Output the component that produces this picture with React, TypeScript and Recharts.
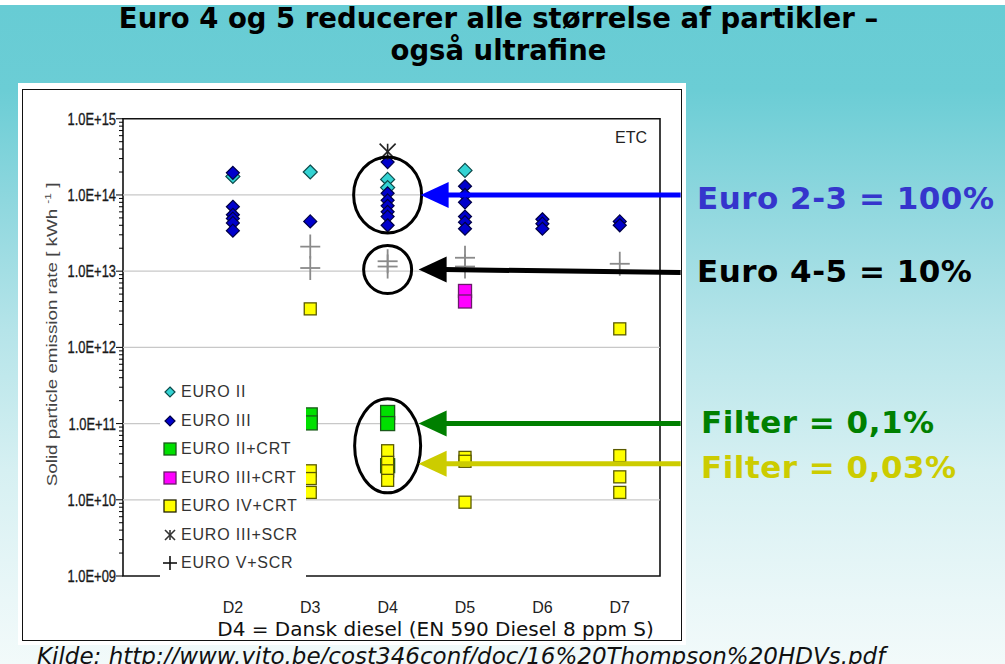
import React from 'react';
import {
  ScatterChart,
  Scatter,
  XAxis,
  YAxis,
  ReferenceLine,
  ReferenceArea,
  ReferenceDot,
  Legend,
} from 'recharts';

// ---------- data ----------
const CATEGORIES = ['D2', 'D3', 'D4', 'D5', 'D6', 'D7'];
const Y_DECADES = [1e9, 1e10, 1e11, 1e12, 1e13, 1e14, 1e15];
const Y_TICK_LABELS = ['1.0E+09', '1.0E+10', '1.0E+11', '1.0E+12', '1.0E+13', '1.0E+14', '1.0E+15'];
const Y_MINOR_STEPS = [2, 3, 4, 5, 6, 7, 8, 9];

// values listed per category (D2..D7)
const EURO_II = [[1.75e14], [2.0e14], [1.6e14, 1.25e14], [2.1e14], [], []];
const EURO_III = [
  [1.95e14, 7.0e13, 5.5e13, 4.9e13, 4.3e13, 3.4e13],
  [4.5e13],
  [2.7e14, 1.05e14, 8.5e13, 7.2e13, 6.0e13, 5.2e13, 4.0e13],
  [1.3e14, 1.0e14, 8.0e13, 5.2e13, 4.4e13, 3.6e13],
  [4.8e13, 4.2e13, 3.6e13],
  [4.5e13, 4.0e13],
];
const EURO_II_CRT = [[], [1.3e11, 1.02e11], [1.4e11, 1.0e11, 2.8e10], [], [], []];
const EURO_III_CRT = [[], [], [], [5.5e12, 4.0e12], [], []];
const EURO_IV_CRT = [
  [],
  [3.2e12, 2.4e10, 1.9e10, 1.25e10],
  [4.4e10, 3.1e10, 2.4e10, 1.8e10],
  [3.6e10, 3.2e10, 9.3e9],
  [],
  [1.75e12, 3.8e10, 2.0e10, 1.25e10],
];
const EURO_III_SCR = [[], [], [3.7e14], [], [], []];
const EURO_V_SCR = [[], [2.1e13, 1.1e13], [1.35e13, 1.15e13], [1.5e13, 1.15e13], [], [1.25e13]];

const toPoints = (vals: number[][]) =>
  vals.flatMap((list, i) => list.map((v) => ({ x: i, y: v })));

// ---------- marker shapes ----------
const diamond = (fill: string, stroke: string, r: number) => (p: any) => {
  const { cx, cy } = p;
  return (
    <path
      d={`M${cx},${cy - r}L${cx + r},${cy}L${cx},${cy + r}L${cx - r},${cy}Z`}
      fill={fill}
      stroke={stroke}
      strokeWidth={1.2}
    />
  );
};
const square = (fill: string, stroke: string, s: number) => (p: any) => {
  const { cx, cy } = p;
  return (
    <rect x={cx - s / 2} y={cy - s / 2} width={s} height={s} fill={fill} stroke={stroke} strokeWidth={1.3} />
  );
};
const plus = (color: string, w: number, h: number, sw = 1.6) => (p: any) => {
  const { cx, cy } = p;
  return (
    <g stroke={color} strokeWidth={sw}>
      <line x1={cx - w / 2} x2={cx + w / 2} y1={cy} y2={cy} />
      <line x1={cx} x2={cx} y1={cy - h / 2} y2={cy + h / 2} />
    </g>
  );
};
const asterisk = (color: string, s: number) => (p: any) => {
  const { cx, cy } = p;
  const r = s / 2;
  return (
    <g stroke={color} strokeWidth={1.6}>
      <line x1={cx - r} x2={cx + r} y1={cy - r} y2={cy + r} />
      <line x1={cx - r} x2={cx + r} y1={cy + r} y2={cy - r} />
      <line x1={cx} x2={cx} y1={cy - r} y2={cy + r} />
    </g>
  );
};

const SERIES = [
  { name: 'EURO II', vals: EURO_II, shape: diamond('#33D3D3', '#0d4a4a', 7), icon: diamond('#33D3D3', '#0d4a4a', 5) },
  { name: 'EURO III', vals: EURO_III, shape: diamond('#0000CC', '#000044', 6.5), icon: diamond('#0000CC', '#000044', 5) },
  { name: 'EURO II+CRT', vals: EURO_II_CRT, shape: square('#00E000', '#1a5a1a', 14), icon: square('#00E000', '#1a5a1a', 12) },
  { name: 'EURO III+CRT', vals: EURO_III_CRT, shape: square('#FF00FF', '#6a1a6a', 13), icon: square('#FF00FF', '#6a1a6a', 12) },
  { name: 'EURO IV+CRT', vals: EURO_IV_CRT, shape: square('#FFFF00', '#5a5a00', 12), icon: square('#FFFF00', '#222200', 12) },
  { name: 'EURO III+SCR', vals: EURO_III_SCR, shape: asterisk('#222', 16), icon: asterisk('#333', 10) },
  { name: 'EURO V+SCR', vals: EURO_V_SCR, shape: plus('#8a8a8a', 20, 24, 1.8), icon: plus('#111', 14, 14) },
];
// drawing order (later = on top)
const DRAW_ORDER = ['EURO II+CRT', 'EURO III+CRT', 'EURO IV+CRT', 'EURO V+SCR', 'EURO II', 'EURO III', 'EURO III+SCR'];

// ---------- axis ticks ----------
const Y_TICKS = Y_DECADES.flatMap((d, i) =>
  i < Y_DECADES.length - 1 ? [d, ...Y_MINOR_STEPS.map((m) => m * d)] : [d]
);

const FONT = "'Liberation Sans', Arial, sans-serif";
const VERDANA = "'DejaVu Sans', Verdana, sans-serif";

const YTick = (props: any) => {
  const { x, y, payload } = props;
  const v = payload.value;
  const idx = Y_DECADES.findIndex((d) => Math.abs(d - v) / d < 1e-6);
  const major = idx >= 0;
  return (
    <g>
      <line x1={x - (major ? 7 : 4)} x2={x} y1={y} y2={y} stroke="#000" strokeWidth={1} />
      {major && (
        <text
          transform={`translate(${x - 7},${y}) scale(0.76,1)`}
          x={0}
          y={0}
          dy="0.36em"
          textAnchor="end"
          fontSize={17}
          fill="#1a1a1a"
          stroke="#1a1a1a"
          strokeWidth={0.35}
          fontFamily={FONT}
        >
          {Y_TICK_LABELS[idx]}
        </text>
      )}
    </g>
  );
};

const XTick = (props: any) => {
  const { x, y, payload } = props;
  return (
    <text x={x} y={y} dy={37} textAnchor="middle" fontSize={16} fill="#222" fontFamily={FONT}>
      {CATEGORIES[payload.value]}
    </text>
  );
};

const XLabel = (props: any) => {
  const { viewBox } = props;
  return (
    <text
      x={viewBox.x + viewBox.width / 2 + 44}
      y={viewBox.y + 60}
      textAnchor="middle"
      fontSize={20}
      fill="#111"
      fontFamily={VERDANA}
    >
      D4 = Dansk diesel (EN 590 Diesel 8 ppm S)
    </text>
  );
};

const YLabel = (props: any) => {
  const { viewBox } = props;
  const cx = 52;
  const cy = viewBox.y + viewBox.height / 2 - 13;
  return (
    <text
      transform={`translate(${cx},${cy}) rotate(-90) scale(1.34,1)`}
      x={0}
      y={0}
      dy="0.35em"
      textAnchor="middle"
      fontSize={14}
      fill="#444"
      fontFamily={FONT}
    >
      <tspan>Solid particle emission rate [ kWh </tspan>
      <tspan dy={-6} fontSize={9}>-1</tspan>
      <tspan dy={6}> ]</tspan>
    </text>
  );
};

// ---------- annotations (anchored to data coordinates) ----------
const arrow = (color: string, tipOffset: number, tailOffset: number, tailDy = 0) => (cx: number, cy: number) => {
  const tx = cx + tipOffset;
  const head = 28;
  const half = 13;
  const endX = cx + tailOffset;
  return (
    <g>
      <line x1={tx + head - 2} y1={cy} x2={endX} y2={cy + tailDy} stroke={color} strokeWidth={5} />
      <polygon points={`${tx},${cy} ${tx + head},${cy - half} ${tx + head},${cy + half}`} fill={color} />
    </g>
  );
};

const Annot = (rx: number, ry: number, arrowFn?: (cx: number, cy: number) => any) => (p: any) => {
  const { cx, cy } = p;
  return (
    <g>
      {rx > 0 && <ellipse cx={cx} cy={cy} rx={rx} ry={ry} fill="none" stroke="#000" strokeWidth={3} />}
      {arrowFn && arrowFn(cx, cy)}
    </g>
  );
};

const LegendContent = (props: any) => {
  const { payload } = props;
  const items = SERIES.filter((s) => (payload || []).some((e: any) => e.value === s.name));
  return (
    <div style={{ background: '#fff', paddingTop: 4 }}>
      {items.map((s) => (
        <div key={s.name} style={{ display: 'flex', alignItems: 'center', height: 28.5 }}>
          <svg width={20} height={20} style={{ flex: 'none' }}>
            {s.icon({ cx: 10, cy: 10 })}
          </svg>
          <span
            style={{
              fontFamily: FONT,
              fontSize: 16,
              letterSpacing: 0.8,
              color: '#333',
              marginLeft: 1,
              whiteSpace: 'nowrap',
            }}
          >
            {s.name}
          </span>
        </div>
      ))}
    </div>
  );
};

const W = 1005;
const H = 664;
const PLOT_TOP = 118.75;
const PLOT_LEFT = 123;
const PLOT_RIGHT = 660;
const PLOT_BOTTOM = 576;
const Y_AXIS_W = 60;
const X_AXIS_H = 68;

const annText = (top: number, color: string, text: string, left = 697) => (
  <div
    style={{
      position: 'absolute',
      left,
      top,
      fontFamily: VERDANA,
      fontWeight: 'bold',
      fontSize: 31,
      lineHeight: '31px',
      color,
      whiteSpace: 'nowrap',
      letterSpacing: 0.5,
    }}
  >
    {text}
  </div>
);

export default function App() {
  const ordered = DRAW_ORDER.map((n) => SERIES.find((s) => s.name === n)!);
  return (
    <div
      style={{
        position: 'absolute',
        left: 0,
        top: 0,
        width: W,
        height: H,
        overflow: 'hidden',
        background:
          'linear-gradient(to bottom, #ffffff 0px, #ffffff 5px, #67CCD4 5px, #6BCDD5 90px, #8ED7DE 200px, #B5E4E9 330px, #D6F0F2 470px, #EAF7F8 600px, #F2FAFA 664px)',
      }}
    >
      <div
        style={{
          position: 'absolute',
          left: 0,
          top: 2.3,
          width: W - 8,
          textAlign: 'center',
          fontFamily: VERDANA,
          fontWeight: 'bold',
          fontSize: 27.5,
          lineHeight: '32px',
          color: '#000',
        }}
      >
        Euro 4 og 5 reducerer alle størrelse af partikler –<br />
        også ultrafine
      </div>
      <div style={{ position: 'absolute', left: 18, top: 83, width: 668, height: 562, background: '#fff' }} />
      <div
        style={{
          position: 'absolute',
          left: 22,
          top: 89,
          width: 660,
          height: 552,
          border: '1.5px solid #111',
          boxSizing: 'border-box',
        }}
      />
      <div style={{ position: 'absolute', left: 0, top: 0 }}>
        <ScatterChart
          width={W}
          height={H}
          margin={{
            top: PLOT_TOP,
            left: PLOT_LEFT - Y_AXIS_W,
            right: W - PLOT_RIGHT,
            bottom: H - PLOT_BOTTOM - X_AXIS_H,
          }}
        >
          <XAxis
            type="number"
            dataKey="x"
            domain={[-1.42, 5.52]}
            ticks={CATEGORIES.map((_, i) => i)}
            interval={0}
            allowDataOverflow
            tickLine={false}
            axisLine={false}
            tickSize={0}
            tickMargin={0}
            height={X_AXIS_H}
            tick={<XTick />}
            label={XLabel}
          />
          <YAxis
            type="number"
            dataKey="y"
            scale="log"
            domain={[1e9, 1e15]}
            allowDataOverflow
            ticks={Y_TICKS}
            interval={0}
            tickLine={false}
            axisLine={false}
            tickSize={0}
            tickMargin={0}
            width={Y_AXIS_W}
            tick={<YTick />}
            label={YLabel}
          />
          {Y_DECADES.slice(1, -1).map((d) => (
            <ReferenceLine key={d} y={d} stroke="#C8C8C8" strokeWidth={1.2} />
          ))}
          <ReferenceArea
            x1={-1.42}
            x2={5.52}
            y1={1e9}
            y2={1e15}
            fill="none"
            fillOpacity={0}
            stroke="#111"
            strokeWidth={1.6}
            label={{ value: 'ETC', position: 'insideTopRight', offset: 13, fontSize: 16, fill: '#222', fontFamily: FONT }}
          />
          <Legend
            layout="vertical"
            align="center"
            verticalAlign="middle"
            payload={SERIES.map((s) => ({ value: s.name, type: 'circle', id: s.name }))}
            content={LegendContent}
            wrapperStyle={{ position: 'absolute', left: 160, top: 374, width: 146, height: 200, background: '#fff' }}
          />
          {ordered.map((s) => (
            <Scatter
              key={s.name}
              name={s.name}
              data={toPoints(s.vals)}
              shape={s.shape}
              isAnimationActive={false}
            />
          ))}
          <ReferenceDot x={2} y={1e14} r={0} shape={Annot(34, 38, arrow('#0000FF', 33, 293))} />
          <ReferenceDot x={2} y={1.05e13} r={0} shape={Annot(24, 24, arrow('#000000', 31, 293, 3))} />
          <ReferenceDot x={2} y={5.1e10} r={0} shape={Annot(33, 47)} />
          <ReferenceDot x={2} y={1.0e11} r={0} shape={Annot(0, 0, arrow('#007F00', 31, 293))} />
          <ReferenceDot x={2} y={2.97e10} r={0} shape={Annot(0, 0, arrow('#CCCC00', 31, 293))} />
        </ScatterChart>
      </div>
      {annText(183, '#3535CC', 'Euro 2-3 = 100%')}
      {annText(256, '#000000', 'Euro 4-5 = 10%')}
      {annText(406.5, '#008000', 'Filter = 0,1%', 701)}
      {annText(451.5, '#CCCC00', 'Filter = 0,03%', 701)}
      <div
        style={{
          position: 'absolute',
          left: 37,
          top: 643,
          fontFamily: VERDANA,
          fontStyle: 'italic',
          fontSize: 23,
          lineHeight: '26px',
          color: '#111',
          whiteSpace: 'nowrap',
        }}
      >
        Kilde: http://www.vito.be/cost346conf/doc/16%20Thompson%20HDVs.pdf
      </div>
    </div>
  );
}
